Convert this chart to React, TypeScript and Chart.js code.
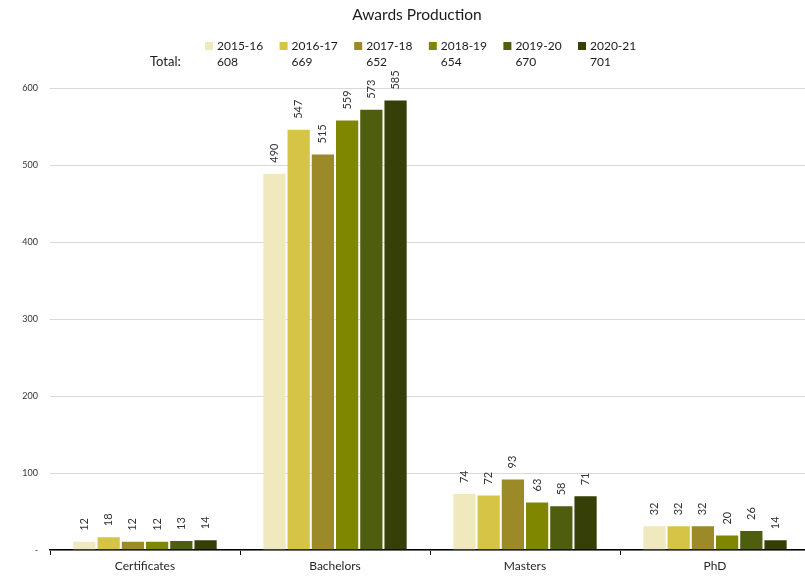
import React, { useEffect, useRef } from "react";
import { Chart, registerables } from "chart.js";

Chart.register(...registerables);

const categories = ["Certificates", "Bachelors", "Masters", "PhD"];
const seriesNames = ["2015-16", "2016-17", "2017-18", "2018-19", "2019-20", "2020-21"];
const totals = ["608", "669", "652", "654", "670", "701"];
const v2015 = [12, 490, 74, 32];
const v2016 = [18, 547, 72, 32];
const v2017 = [12, 515, 93, 32];
const v2018 = [12, 559, 63, 20];
const v2019 = [13, 573, 58, 26];
const v2020 = [14, 585, 71, 14];
const seriesValues = [v2015, v2016, v2017, v2018, v2019, v2020];
const colors = ["#F1E9BE", "#D6C447", "#9B8A27", "#7F8700", "#4F5E0E", "#353F07"];
const titleText = "Awards Production";
const totalLabel = "Total:";

const FONT = "Lato, 'Open Sans', sans-serif";

const labelPlugin = {
  id: "barLabels",
  afterDatasetsDraw(chart: any) {
    const ctx = chart.ctx;
    ctx.save();
    ctx.font = `11px ${FONT}`;
    ctx.fillStyle = "#333333";
    ctx.textAlign = "left";
    ctx.textBaseline = "middle";
    chart.data.datasets.forEach((ds: any, di: number) => {
      const meta = chart.getDatasetMeta(di);
      meta.data.forEach((el: any, i: number) => {
        ctx.save();
        ctx.translate(el.x, el.y - 10);
        ctx.rotate(-Math.PI / 2);
        ctx.fillText(String(ds.data[i]), 0, 0);
        ctx.restore();
      });
    });
    ctx.restore();
  },
  afterDraw(chart: any) {
    const ctx = chart.ctx;
    ctx.save();
    ctx.fillStyle = "#1a1a1a";
    ctx.font = `15.5px ${FONT}`;
    ctx.textAlign = "center";
    ctx.textBaseline = "middle";
    ctx.fillText(titleText, 417, 15);

    ctx.font = `12px ${FONT}`;
    ctx.textAlign = "left";
    ctx.fillStyle = "#1a1a1a";
    ctx.font = `13px ${FONT}`;
    ctx.fillText(totalLabel, 150, 62);
    ctx.font = `12px ${FONT}`;
    const step = 74.6;
    seriesNames.forEach((name, i) => {
      const sx = 205 + i * step;
      ctx.fillStyle = colors[i];
      ctx.fillRect(sx, 42, 8, 8);
      ctx.fillStyle = "#1a1a1a";
      ctx.fillText(name, sx + 12, 46);
      ctx.fillText(totals[i], sx + 12, 62);
    });
    ctx.restore();
  },
};

export default function App() {
  const ref = useRef<HTMLCanvasElement | null>(null);
  useEffect(() => {
    if (!ref.current) return;
    const chart = new Chart(ref.current, {
      type: "bar",
      data: {
        labels: categories,
        datasets: seriesNames.map((name, i) => ({
          label: name,
          data: seriesValues[i],
          backgroundColor: colors[i],
          borderColor: "rgba(255,255,255,0.2)",
          borderWidth: 1,
          barPercentage: 1.0,
          categoryPercentage: 0.765,
        })),
      },
      options: {
        responsive: false,
        animation: false,
        layout: { padding: { top: 88, right: 2, left: 0, bottom: 0 } },
        plugins: {
          legend: { display: false },
          title: { display: false },
          tooltip: { enabled: false },
        },
        scales: {
          x: {
            grid: {
              display: true,
              drawOnChartArea: false,
              drawTicks: true,
              tickLength: 5,
              color: "#000000",
              offset: true,
            },
            border: { display: true, color: "#000000", width: 1.5 },
            ticks: { font: { family: FONT, size: 12 }, color: "#262626", padding: 4 },
            afterFit(scale: any) {
              scale.height = 27;
            },
          },
          y: {
            min: 0,
            max: 600,
            ticks: {
              stepSize: 100,
              font: { family: FONT, size: 9 },
              color: "#333333",
              padding: 12,
              callback: (v: any) => (v === 0 ? "-" : String(v)),
            },
            grid: { color: "#d9d9d9", drawTicks: false, lineWidth: 1 },
            border: { display: false },
            afterFit(scale: any) {
              scale.width = 50;
            },
          },
        },
      },
      plugins: [labelPlugin],
    });
    return () => chart.destroy();
  }, []);
  return (
    <div
      style={{
        position: "fixed",
        left: 0,
        top: 0,
        width: 805,
        height: 577,
        overflow: "hidden",
        background: "#ffffff",
      }}
    >
      <canvas ref={ref} width={812} height={577} style={{ display: "block", width: 812, height: 577 }} />
    </div>
  );
}
